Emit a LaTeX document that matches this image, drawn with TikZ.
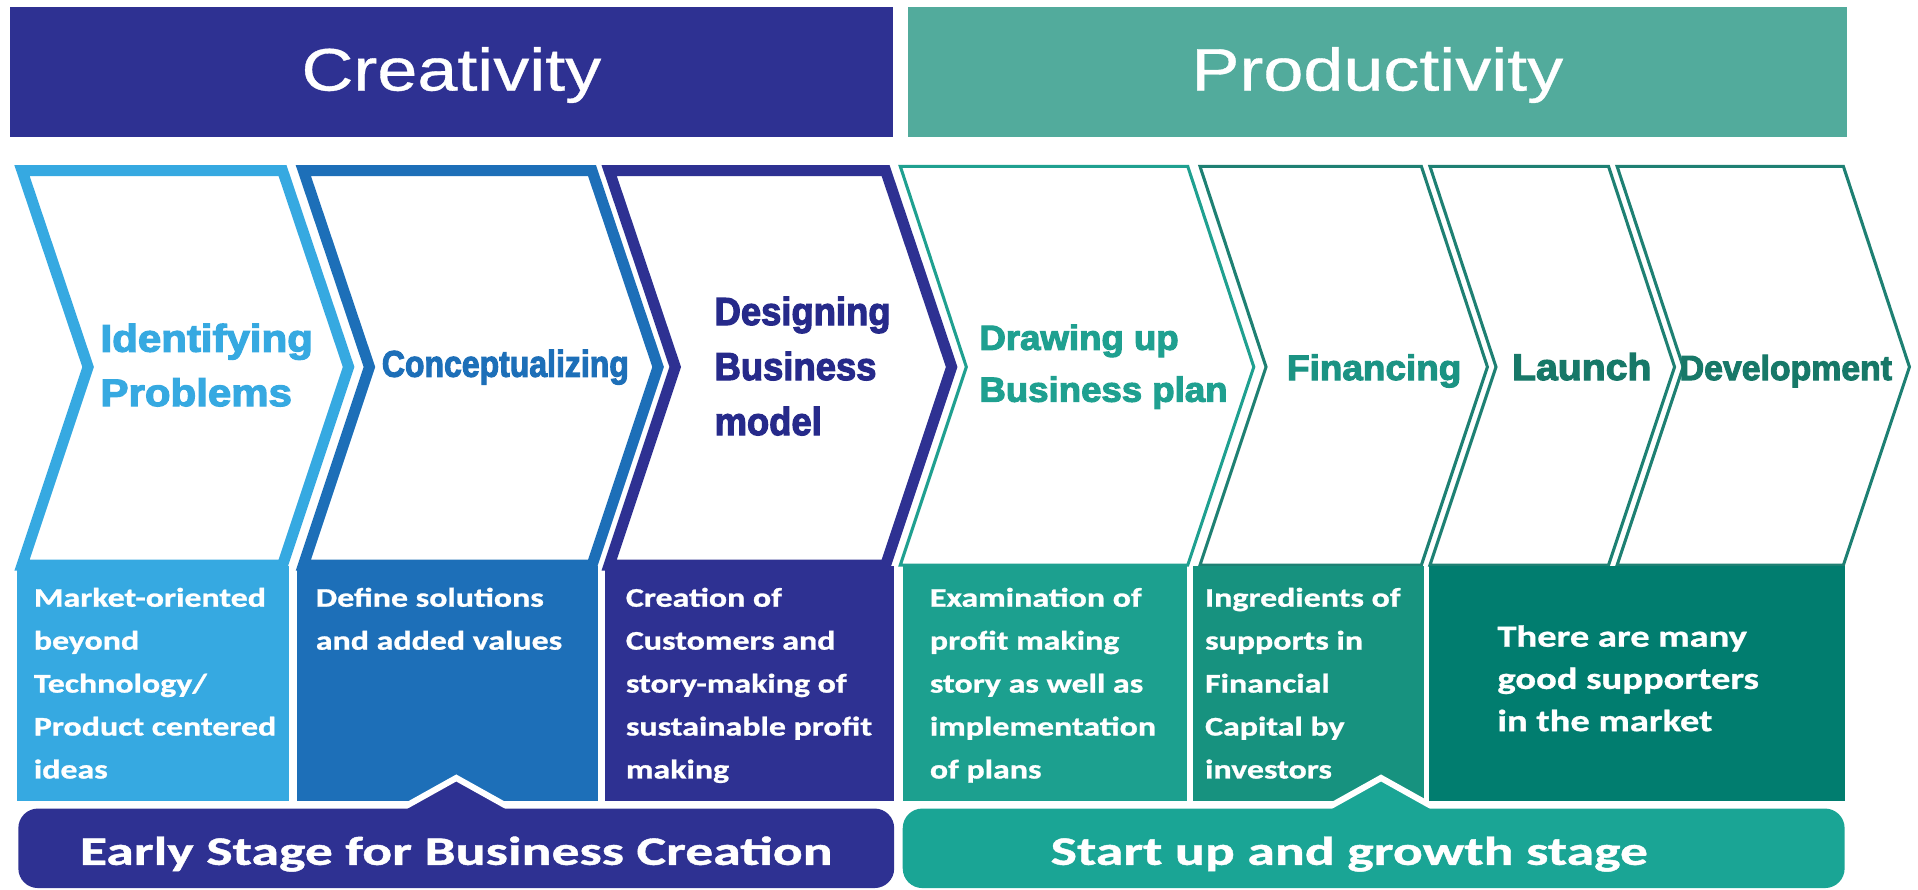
\documentclass[tikz,border=0pt]{standalone}
\usepackage{fontspec}
\usepackage{graphicx}
\newfontfamily\hdrfont[FakeStretch=1.2,FakeBold=0.6]{Liberation Sans}
\newfontfamily\ttlfont[FakeBold=3]{Liberation Sans}
\newfontfamily\bodyfont[FakeStretch=1.26,FakeBold=1]{Carlito}
\newfontfamily\banfont[FakeStretch=1.38,FakeBold=1]{Carlito}
\newcommand\lns[2]{\vtop{\baselineskip=#1\relax\lineskiplimit=-1000pt\halign{##\hfil\cr#2\crcr}}}
\newcommand\fs[1]{\fontsize{#1}{#1}\selectfont}
\definecolor{cBlueL}{HTML}{36A9E1}
\definecolor{cBlueM}{HTML}{1D6FB8}
\definecolor{cIndigo}{HTML}{2E3192}
\definecolor{cNavyTxt}{HTML}{262A8A}
\definecolor{cTealHdr}{HTML}{52AB9C}
\definecolor{cTeal}{HTML}{1FA090}
\definecolor{cTealD}{HTML}{1E8073}
\definecolor{cTealBox}{HTML}{1CA08F}
\definecolor{cTealBoxB}{HTML}{17927F}
\definecolor{cTealDark}{HTML}{017D6F}
\definecolor{cTealBan}{HTML}{1AA595}
\definecolor{cTealTxt}{HTML}{1B9383}
\definecolor{cTealTxtD}{HTML}{177868}
\newcommand\chev[4]{\draw[#1] (#2,#4) -- (#3,#4) -- ({#3+54},300) -- (#3,462) -- (#2,462) -- ({#2+54},300) -- cycle;}
\begin{document}
\begin{tikzpicture}[x=1pt,y=-1pt,
  bluechev/.style={line width=9pt,line join=miter,fill=white},
  tealchev/.style={line width=2.5pt,line join=miter,fill=white},
  hdrtxt/.style={anchor=base,inner sep=0pt,text=white,font=\hdrfont\fs{49}},
  ttl/.style={anchor=base west,inner sep=0pt,font=\ttlfont\bfseries},
  bodytxt/.style={anchor=base west,inner sep=0pt,text=white,font=\bodyfont\bfseries\fs{22}},
  bantxt/.style={anchor=base,inner sep=0pt,text=white,font=\banfont\bfseries\fs{33}},
  bump/.style={draw=white,line width=5pt,line join=miter}]
\useasboundingbox (0,0) rectangle (1568,727);
% header bars
\fill[cIndigo] (8,6) rectangle (730,112);
\fill[cTealHdr] (742,6) rectangle (1510,112);
\node[hdrtxt] (hc) at (369,74) {Creativity};
\node[hdrtxt] (hp) at (1126,74) {Productivity};
% chevrons
\chev{bluechev,draw=cBlueL}{18}{231}{139.5}
\chev{bluechev,draw=cBlueM}{248}{484}{139.5}
\chev{bluechev,draw=cIndigo}{498}{724}{139.5}
\chev{tealchev,draw=cTeal}{736}{971}{136}
\chev{tealchev,draw=cTealD}{981}{1162}{136}
\chev{tealchev,draw=cTealD}{1169}{1315}{136}
\chev{tealchev,draw=cTealD}{1322}{1507}{136}
% boxes
\fill[cBlueL] (14,463) rectangle (236,655);
\fill[cBlueM] (243,463) rectangle (489,655);
\fill[cIndigo] (495,463) rectangle (731,655);
\fill[cTealBox] (738,463) rectangle (970,655);
\fill[cTealBoxB] (975,463) rectangle (1164,655);
\fill[cTealDark] (1168,463) rectangle (1508,655);
% banners
\path[bump,fill=cIndigo] (321,665) -- (373,636) -- (425,665) -- cycle;
\fill[cIndigo,rounded corners=16pt] (15,661) rectangle (731,726);
\path[bump,fill=cTealBan] (1077,665) -- (1129,636) -- (1181,665) -- cycle;
\fill[cTealBan,rounded corners=16pt] (738,661) rectangle (1508,726);
% titles
\node[ttl,text=cBlueL] (t1) at (82,287.5) {\scalebox{1.09}[1]{\fs{31.5}\lns{44.5pt}{Identifying\cr Problems}}};
\node[ttl,text=cBlueM] (t2) at (312,308) {\scalebox{0.86}[1]{\fs{30.4}Conceptualizing}};
\node[ttl,text=cNavyTxt] (t3) at (584,265.7) {\scalebox{0.93}[1]{\fs{32}\lns{45pt}{Designing\cr Business\cr model}}};
\node[ttl,text=cTeal] (t4) at (800.5,286) {\scalebox{1.05}[1]{\fs{28.5}\lns{42.4pt}{Drawing up\cr Business plan}}};
\node[ttl,text=cTealTxt] (t5) at (1052,310.7) {\scalebox{1.04}[1]{\fs{29}Financing}};
\node[ttl,text=cTealTxtD] (t6) at (1236,310.7) {\scalebox{1.05}[1]{\fs{30.5}Launch}};
\node[ttl,text=cTealTxtD] (t7) at (1373,310.7) {\scalebox{0.97}[1]{\fs{28.5}Development}};
% box texts
\node[bodytxt] (b1) at (27.5,496) {\lns{35.1pt}{Market-oriented\cr beyond\cr Technology/\cr Product centered\cr ideas}};
\node[bodytxt] (b2) at (258,496) {\lns{35.1pt}{Define solutions\cr and added values}};
\node[bodytxt] (b3) at (511.5,496) {\lns{35.1pt}{Creation of\cr Customers and\cr story-making of\cr sustainable profit\cr making}};
\node[bodytxt] (b4) at (760,496) {\lns{35.1pt}{Examination of\cr profit making\cr story as well as\cr implementation\cr of plans}};
\node[bodytxt] (b5) at (985,496) {\lns{35.1pt}{Ingredients of\cr supports in\cr Financial\cr Capital by\cr investors}};
\node[bodytxt,font=\bodyfont\bfseries\fs{25}] (b6) at (1224,528.7) {\lns{34.5pt}{There are many\cr good supporters\cr in the market}};
% banner texts
\node[bantxt] (s1) at (373,707) {Early Stage for Business Creation};
\node[bantxt] (s2) at (1103,707) {Start up and growth stage};
\end{tikzpicture}
\end{document}
